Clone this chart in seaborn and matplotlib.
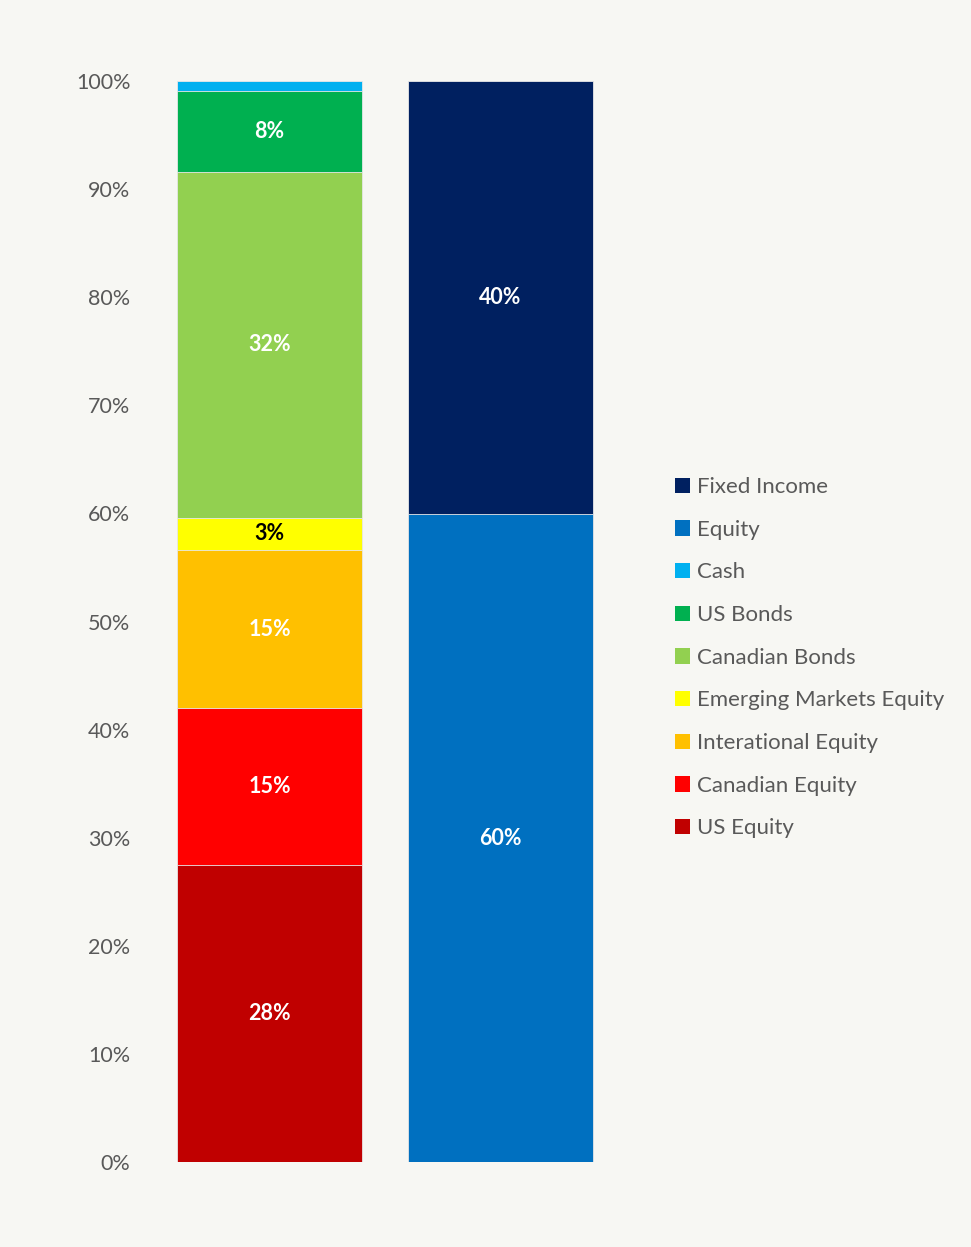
import pandas as pd
import numpy as np

import matplotlib
matplotlib.use('AGG')
import matplotlib.pyplot as plt
from matplotlib.patches import Patch
from matplotlib.ticker import PercentFormatter
import seaborn as sns

sns.set_theme(style="white")
plt.rcParams['font.family'] = ['Lato', 'DejaVu Sans']

BG = '#f7f7f3'
GREY = '#595959'

# detail bar (bottom to top)
detail_names = ['US Equity', 'Canadian Equity', 'Interational Equity',
                'Emerging Markets Equity', 'Canadian Bonds', 'US Bonds', 'Cash']
detail_values = [27.5, 14.5, 14.6, 3.0, 32.0, 7.5, 0.9]
detail_colors = ['#c00000', '#ff0000', '#ffc000', '#ffff00', '#92d050', '#00b050', '#00b0f0']
detail_labels = ['28%', '15%', '15%', '3%', '32%', '8%', '']
detail_text_colors = ['white', 'white', 'white', 'black', 'white', 'white', 'white']

# summary bar (bottom to top)
summary_names = ['Equity', 'Fixed Income']
summary_values = [59.9, 40.1]
summary_colors = ['#0070c0', '#002060']
summary_labels = ['60%', '40%']

bars = ['Detail', 'Summary']

fig = plt.figure(figsize=(9.71, 12.47), dpi=100, facecolor=BG)
ax = fig.add_axes([0.1586, 0.0682, 0.4758, 0.8668])
ax.set_facecolor(BG)


def stack(ax, bar, values, colors, labels, text_colors):
    tops = np.cumsum(values)
    bottoms = tops - np.array(values)
    # draw from the top segment down so each cumulative bar sits on top of the previous
    for i in reversed(range(len(values))):
        df = pd.DataFrame({'bar': [bar], 'value': [tops[i]]})
        sns.barplot(data=df, x='bar', y='value', order=bars, color=colors[i],
                    saturation=1, width=0.8, edgecolor='#e8e8e8', linewidth=0.6,
                    ax=ax)
    xpos = bars.index(bar)
    for i in range(len(values)):
        if labels[i]:
            ax.text(xpos, (bottoms[i] + tops[i]) / 2, labels[i], ha='center', va='center',
                    color=text_colors[i], fontsize=15.5, fontweight='bold')


stack(ax, 'Detail', detail_values, detail_colors, detail_labels, detail_text_colors)
stack(ax, 'Summary', summary_values, summary_colors, summary_labels, ['white', 'white'])

ax.set_xlim(-0.5, 1.5)
ax.set_ylim(0, 100)
ax.set_yticks(np.arange(0, 101, 10))
ax.yaxis.set_major_formatter(PercentFormatter(decimals=0))
ax.tick_params(axis='y', labelsize=15.5, colors=GREY, length=0, pad=17)
ax.set_xticks([])
ax.set_xlabel('')
ax.set_ylabel('')
sns.despine(ax=ax, left=True, bottom=True)

legend_names = summary_names[::-1] + detail_names[::-1]
legend_colors = summary_colors[::-1] + detail_colors[::-1]
handles = [Patch(facecolor=c, edgecolor='none', label=n) for n, c in zip(legend_names, legend_colors)]
fig.legend(handles=handles, loc='upper left', bbox_to_anchor=(0.6855, 0.6245),
           frameon=False, fontsize=16, labelcolor=GREY, handlelength=0.7,
           handleheight=0.7, handletextpad=0.3, labelspacing=1.02, borderaxespad=0)

fig.savefig('out.png', dpi=100, facecolor=BG)
